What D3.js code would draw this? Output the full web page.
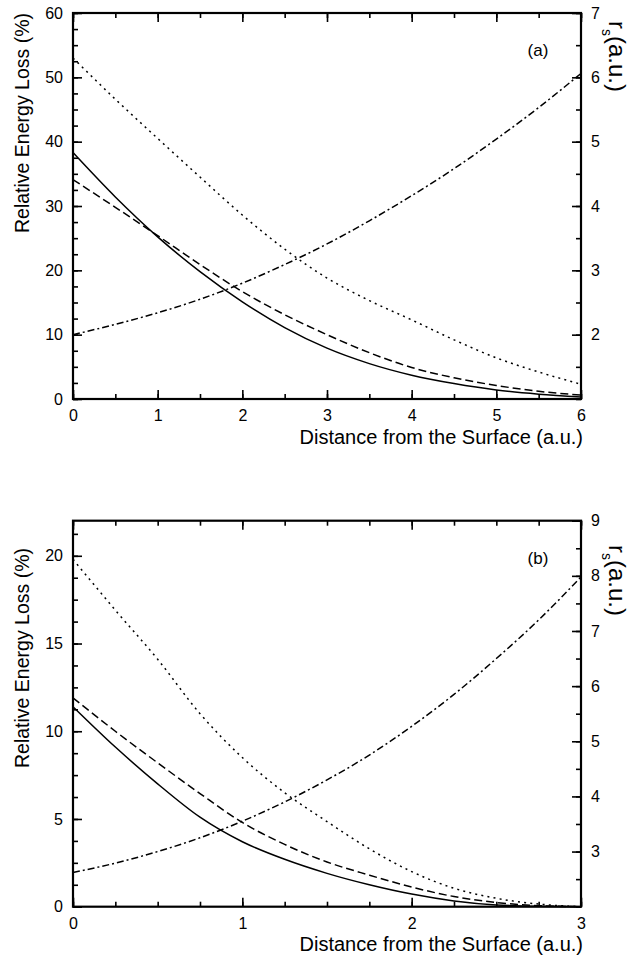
<!DOCTYPE html>
<html>
<head>
<meta charset="utf-8">
<script src="https://cdnjs.cloudflare.com/ajax/libs/d3/7.8.5/d3.min.js"></script>
<style>
  body { margin: 0; background: #fff; }
  svg { display: block; font-family: "Liberation Sans", Arial, sans-serif; }
</style>
</head>
<body>
<svg id="chart" width="633" height="962"></svg>
<script>
// panel (a)
var distA = [0, 0.5, 1, 1.5, 2, 2.5, 3, 3.5, 4, 4.5, 5, 5.5, 6];
var solidA = [38.3, 31.4, 25.2, 19.8, 15.1, 11.1, 7.9, 5.5, 3.7, 2.4, 1.4, 0.75, 0.3];
var dashedA = [34.1, 29.8, 25.4, 20.9, 16.7, 13.1, 10.0, 7.2, 4.9, 3.3, 2.1, 1.2, 0.6];
var dottedA = [53.0, 46.6, 40.5, 34.5, 28.6, 23.3, 18.8, 15.3, 12.3, 9.2, 6.4, 4.2, 2.3];
var rsA = [2.0, 2.16, 2.34, 2.55, 2.80, 3.09, 3.41, 3.77, 4.16, 4.58, 5.04, 5.53, 6.06];

// panel (b)
var distB = [0, 0.25, 0.5, 0.75, 1, 1.25, 1.5, 1.75, 2, 2.25, 2.5, 2.75, 3];
var solidB = [11.4, 9.1, 7.0, 5.1, 3.7, 2.7, 1.9, 1.25, 0.72, 0.33, 0.1, 0.02, 0];
var dashedB = [11.9, 10.0, 8.2, 6.45, 4.8, 3.55, 2.55, 1.8, 1.12, 0.58, 0.24, 0.06, 0];
var dottedB = [19.8, 16.9, 14.1, 11.0, 8.5, 6.5, 4.85, 3.3, 2.0, 1.05, 0.48, 0.15, 0];
var rsB = [2.62, 2.79, 3.0, 3.25, 3.55, 3.9, 4.3, 4.75, 5.27, 5.85, 6.5, 7.2, 7.98];

var svg = d3.select("#chart");

var panels = [
  {
    tag: "(a)", top: 13, bottom: 399,
    xDom: [0, 6], xMajor: d3.range(0, 7, 1), xMinor: d3.range(0, 6.01, 0.5),
    yDom: [0, 60], yMajor: d3.range(0, 61, 10), yMinor: d3.range(0, 60.1, 2.5),
    rDom: [1, 7], rMajor: d3.range(2, 8, 1), rMinor: d3.range(1, 7.01, 0.5),
    dist: distA, solid: solidA, dashed: dashedA, dotted: dottedA, rs: rsA,
    yLabelY: 123, xLabelY: 444, rLabelY: 21
  },
  {
    tag: "(b)", top: 520.7, bottom: 906.7,
    xDom: [0, 3], xMajor: d3.range(0, 4, 1), xMinor: d3.range(0, 3.01, 0.25),
    yDom: [0, 22], yMajor: d3.range(0, 21, 5), yMinor: d3.range(0, 22.01, 1.25),
    rDom: [2, 9], rMajor: d3.range(3, 10, 1), rMinor: d3.range(2, 9.01, 0.5),
    dist: distB, solid: solidB, dashed: dashedB, dotted: dottedB, rs: rsB,
    yLabelY: 658, xLabelY: 951, rLabelY: 545
  }
];

var left = 73, right = 581;

panels.forEach(function(p) {
  var x = d3.scaleLinear().domain(p.xDom).range([left, right]),
    y = d3.scaleLinear().domain(p.yDom).range([p.bottom, p.top]),
    yr = d3.scaleLinear().domain(p.rDom).range([p.bottom, p.top]),
    g = svg.append("g");

  var addAxis = function(axis, transform, showLabels) {
    var a = g.append("g").attr("transform", transform).call(axis);
    a.select(".domain").remove();
    a.selectAll("line").attr("stroke", "#000").attr("stroke-width", 1.6);
    a.selectAll("text").attr("font-size", 16).attr("fill", "#000");
    if (!showLabels) a.selectAll("text").remove();
    return a;
  };

  // minor ticks
  addAxis(d3.axisBottom(x).tickValues(p.xMinor).tickSize(-5).tickFormat(""), "translate(0," + p.bottom + ")", false);
  addAxis(d3.axisTop(x).tickValues(p.xMinor).tickSize(-5).tickFormat(""), "translate(0," + p.top + ")", false);
  addAxis(d3.axisLeft(y).tickValues(p.yMinor).tickSize(-5).tickFormat(""), "translate(" + left + ",0)", false);
  addAxis(d3.axisRight(yr).tickValues(p.rMinor).tickSize(-5).tickFormat(""), "translate(" + right + ",0)", false);

  // major ticks
  addAxis(d3.axisBottom(x).tickValues(p.xMajor).tickSize(-9).tickPadding(11).tickFormat(d3.format("d")), "translate(0," + p.bottom + ")", true);
  addAxis(d3.axisTop(x).tickValues(p.xMajor).tickSize(-9), "translate(0," + p.top + ")", false);
  addAxis(d3.axisLeft(y).tickValues(p.yMajor).tickSize(-9).tickPadding(10).tickFormat(d3.format("d")), "translate(" + left + ",0)", true);
  addAxis(d3.axisRight(yr).tickValues(p.rMajor).tickSize(-9).tickPadding(10).tickFormat(d3.format("d")), "translate(" + right + ",0)", true);

  // frame
  g.append("rect")
    .attr("x", left).attr("y", p.top)
    .attr("width", right - left).attr("height", p.bottom - p.top)
    .attr("fill", "none").attr("stroke", "#000").attr("stroke-width", 2.2);

  var lineL = d3.line().x(function(d, i) { return x(p.dist[i]); })
    .y(function(d) { return y(d); }).curve(d3.curveMonotoneX);
  var lineR = d3.line().x(function(d, i) { return x(p.dist[i]); })
    .y(function(d) { return yr(d); }).curve(d3.curveMonotoneX);

  var series = [
    { values: p.solid, line: lineL, dash: null },
    { values: p.dashed, line: lineL, dash: "8,4" },
    { values: p.dotted, line: lineL, dash: "2,4.2" },
    { values: p.rs, line: lineR, dash: "7,3,2,3" }
  ];

  series.forEach(function(s) {
    g.append("path")
      .attr("d", s.line(s.values))
      .attr("fill", "none")
      .attr("stroke", "#000")
      .attr("stroke-width", 1.5)
      .attr("stroke-dasharray", s.dash);
  });

  g.append("text")
    .attr("x", 538).attr("y", p.top + 43)
    .attr("text-anchor", "middle")
    .attr("font-size", 17)
    .text(p.tag);

  g.append("text")
    .attr("transform", "translate(29," + p.yLabelY + ") rotate(-90)")
    .attr("text-anchor", "middle")
    .attr("font-size", 19.5)
    .text("Relative Energy Loss (%)");

  g.append("text")
    .attr("x", 583).attr("y", p.xLabelY)
    .attr("text-anchor", "end")
    .attr("font-size", 20)
    .text("Distance from the Surface (a.u.)");

  var rl = g.append("text")
    .attr("transform", "translate(609," + p.rLabelY + ") rotate(90)")
    .attr("font-size", 24);
  rl.append("tspan").text("r");
  rl.append("tspan").attr("font-size", 14).attr("dy", 7).text("s");
  rl.append("tspan").attr("dy", -7).text("(a.u.)");
});
</script>
</body>
</html>
